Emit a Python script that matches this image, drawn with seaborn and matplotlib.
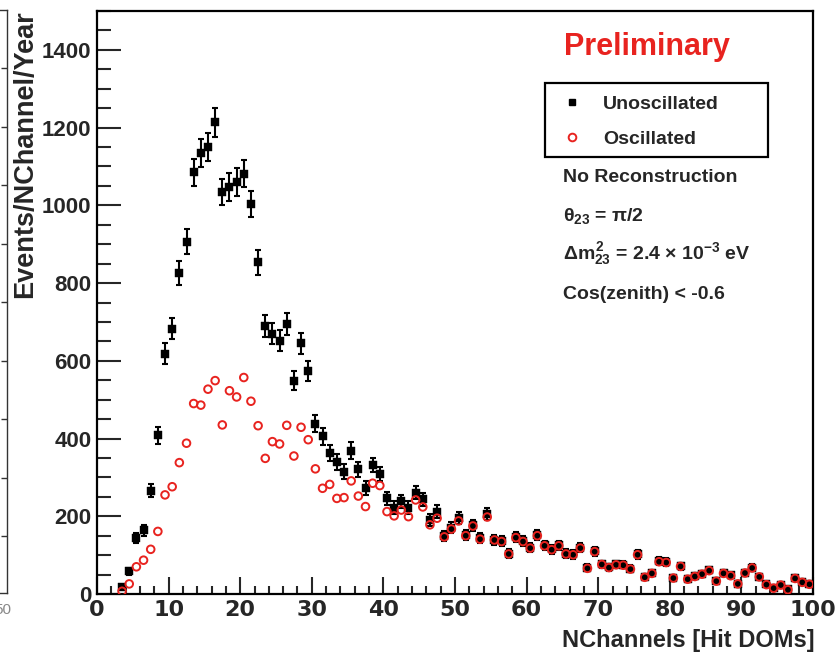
import numpy as np
import pandas as pd
import matplotlib
matplotlib.use("Agg")
import matplotlib.pyplot as plt
from matplotlib.lines import Line2D
from matplotlib.patches import Rectangle
import seaborn as sns

# ---------------- data ----------------
nchannels = [3.5, 4.5, 5.5, 6.5, 7.5, 8.5, 9.5, 10.5, 11.5, 12.5,
             13.5, 14.5, 15.5, 16.5, 17.5, 18.5, 19.5, 20.5, 21.5, 22.5,
             23.5, 24.5, 25.5, 26.5, 27.5, 28.5, 29.5, 30.5, 31.5, 32.5,
             33.5, 34.5, 35.5, 36.5, 37.5, 38.5, 39.5, 40.5, 41.5, 42.5,
             43.5, 44.5, 45.5, 46.5, 47.5, 48.5, 49.5, 50.5, 51.5, 52.5,
             53.5, 54.5, 55.5, 56.5, 57.5, 58.5, 59.5, 60.5, 61.5, 62.5,
             63.5, 64.5, 65.5, 66.5, 67.5, 68.5, 69.5, 70.5, 71.5, 72.5,
             73.5, 74.5, 75.5, 76.5, 77.5, 78.5, 79.5, 80.5, 81.5, 82.5,
             83.5, 84.5, 85.5, 86.5, 87.5, 88.5, 89.5, 90.5, 91.5, 92.5,
             93.5, 94.5, 95.5, 96.5, 97.5, 98.5, 99.5]

unoscillated = [18, 58, 143, 164, 266, 408, 618, 683, 826, 906,
                1085, 1135, 1150, 1214, 1034, 1047, 1060, 1081, 1004, 853,
                690, 670, 651, 694, 549, 645, 574, 438, 406, 363,
                340, 315, 369, 321, 274, 332, 309, 246, 222, 239,
                222, 261, 244, 191, 212, 150, 170, 195, 152, 177,
                143, 205, 140, 136, 104, 146, 136, 119, 151, 125,
                115, 125, 104, 102, 119, 67, 110, 77, 69, 76,
                75, 65, 102, 44, 54, 84, 82, 42, 72, 39,
                46, 52, 61, 34, 54, 48, 27, 55, 68, 45,
                25, 16, 24, 12, 41, 31, 26]

unosc_err = [5, 8, 13, 14, 17, 22, 27, 28, 31, 32,
             35, 36, 36, 37, 34, 35, 35, 35, 34, 31,
             28, 28, 27, 28, 25, 27, 26, 22, 22, 20,
             20, 19, 21, 19, 18, 19, 19, 17, 16, 17,
             16, 17, 17, 15, 16, 13, 14, 15, 13, 14,
             13, 15, 13, 12, 11, 13, 12, 12, 13, 12,
             11, 12, 11, 11, 12, 9, 11, 9, 9, 9,
             9, 9, 11, 7, 8, 10, 10, 7, 9, 7,
             7, 8, 8, 6, 8, 7, 6, 8, 9, 7,
             5, 4, 5, 4, 7, 6, 5]

oscillated = [7, 26, 70, 87, 115, 161, 255, 276, 338, 388,
              490, 486, 527, 549, 435, 523, 507, 557, 496, 433,
              349, 392, 386, 434, 355, 429, 397, 322, 272, 282,
              246, 248, 291, 252, 225, 285, 279, 212, 201, 216,
              199, 242, 224, 178, 195, 147, 167, 188, 150, 175,
              141, 198, 139, 135, 103, 145, 135, 118, 150, 124,
              114, 124, 103, 101, 118, 66, 109, 76, 68, 75,
              74, 64, 101, 43, 53, 83, 81, 41, 71, 38,
              45, 51, 60, 33, 53, 47, 26, 54, 67, 44,
              24, 15, 23, 11, 40, 30, 25]

x_ticks = [0, 10, 20, 30, 40, 50, 60, 70, 80, 90, 100]
y_ticks = [0, 200, 400, 600, 800, 1000, 1200, 1400]

df_u = pd.DataFrame({"NChannels": nchannels, "events": unoscillated, "err": unosc_err})
df_o = pd.DataFrame({"NChannels": nchannels, "events": oscillated})

# ---------------- style ----------------
sns.set_style("white")
plt.rcParams["font.family"] = ["Liberation Sans", "DejaVu Sans"]
plt.rcParams["mathtext.fontset"] = "custom"
plt.rcParams["mathtext.rm"] = "Liberation Sans:bold"
plt.rcParams["mathtext.it"] = "Liberation Sans:bold"
plt.rcParams["mathtext.bf"] = "Liberation Sans:bold"

W, H = 835, 653
fig = plt.figure(figsize=(W / 100, H / 100), dpi=100)
ax = fig.add_axes([97 / W, 1 - 594 / H, (813 - 97) / W, (594 - 11) / H])

RED = "#e8231f"

ax.errorbar(df_u["NChannels"], df_u["events"], yerr=df_u["err"], fmt="none",
            ecolor="black", elinewidth=1.5, capsize=2.3, capthick=1.5, zorder=2)
sns.scatterplot(data=df_u, x="NChannels", y="events", marker="s", s=34,
                color="black", edgecolor="black", linewidth=0.3, ax=ax, zorder=3,
                legend=False)
sns.scatterplot(data=df_o, x="NChannels", y="events", marker="o", s=30,
                facecolors="none", edgecolor=RED, linewidth=1.4, ax=ax, zorder=4,
                legend=False)

ax.set_xlim(0, 100)
ax.set_ylim(0, 1500)
ax.set_xticks(x_ticks)
ax.set_yticks(y_ticks)
ax.set_xticks(np.arange(0, 101, 2), minor=True)
ax.set_yticks(np.arange(0, 1501, 50), minor=True)
ax.set_xlabel("")
ax.set_ylabel("")

for sp in ax.spines.values():
    sp.set_linewidth(1.6)
    sp.set_color("black")
    sp.set_visible(True)

ax.tick_params(axis="x", which="major", direction="in", length=12, width=1.5,
               pad=4, labelsize=16, bottom=True, top=False)
ax.tick_params(axis="x", which="minor", direction="in", length=6, width=1.5,
               bottom=True, top=False)
ax.tick_params(axis="y", which="major", direction="in", length=17, width=1.5,
               pad=4, labelsize=16, left=True, right=False)
ax.tick_params(axis="y", which="minor", direction="in", length=10, width=1.5,
               left=True, right=False)
for lab in ax.get_xticklabels():
    lab.set_fontweight("bold")
    lab.set_family(["DejaVu Sans"])
for lab in ax.get_yticklabels():
    lab.set_fontweight("bold")

# axis titles
fig.text(25 / W, 1 - 10 / H, "Events/NChannel/Year", rotation=90, ha="center",
         va="top", fontsize=19.5, fontweight="bold")
fig.text(815 / W, 1 - 647 / H, "NChannels [Hit DOMs]", ha="right",
         va="baseline", fontsize=17, fontweight="bold")

# Preliminary
fig.text(647 / W, 1 - 47 / H, "Preliminary", color=RED, ha="center",
         va="center", fontsize=22, fontweight="bold")

# legend box
fig.add_artist(Rectangle((545 / W, 1 - 157 / H), (768 - 545) / W, (157 - 83) / H,
                         transform=fig.transFigure, fill=False, edgecolor="black",
                         linewidth=1.6))
handles = [
    Line2D([], [], marker="s", color="black", linestyle="none", markersize=5),
    Line2D([], [], marker="o", markerfacecolor="none", markeredgecolor=RED,
           markeredgewidth=1.4, linestyle="none", markersize=5.5),
]
fig.legend(handles, ["Unoscillated", "Oscillated"], loc="upper left",
           bbox_to_anchor=(562 / W, 1 - 95 / H), frameon=False,
           prop={"size": 14, "weight": "bold"}, handlelength=1.0,
           handletextpad=1.1, labelspacing=0.9, borderaxespad=0, borderpad=0)

# annotation texts
tx = 563 / W
fig.text(tx, 1 - 178 / H, "No Reconstruction", ha="left", va="center",
         fontsize=14, fontweight="bold")
fig.text(tx, 1 - 216 / H, r"$\theta_{23}$ = $\pi$/2", ha="left", va="center",
         fontsize=14, fontweight="bold")
fig.text(tx, 1 - 254 / H, r"$\Delta m^{2}_{23}$ = 2.4 $\times$ 10$^{-3}$ eV",
         ha="left", va="center", fontsize=14, fontweight="bold")
fig.text(tx, 1 - 295 / H, "Cos(zenith) < -0.6", ha="left", va="center",
         fontsize=14, fontweight="bold")

# fragment of the neighbouring panel at the left edge
axl = fig.add_axes([-0.3, 1 - 593 / H, 0.3 + 6.5 / W, (593 - 10) / H])
axl.set_xlim(0, 1)
axl.set_ylim(593, 10)
axl.set_xticks([])
axl.set_yticks([68, 126.5, 185, 243.5, 302, 360.5, 419, 477.5, 536])
axl.yaxis.tick_right()
axl.tick_params(axis="y", direction="in", length=4, width=1, labelright=False,
                colors="#333333")
for sp in axl.spines.values():
    sp.set_linewidth(1.0)
    sp.set_color("#333333")
fig.text(-6 / W, 1 - 614 / H, "50", ha="left", va="baseline", fontsize=11,
         color="#888888")

fig.savefig("out.png", dpi=100)
